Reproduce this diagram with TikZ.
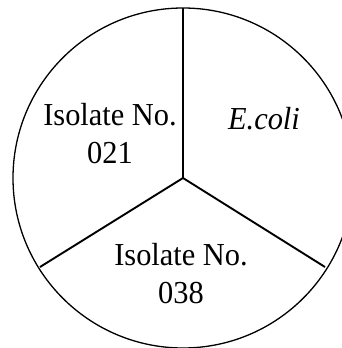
\documentclass[tikz,border=0pt]{standalone}
\usepackage{fontspec}
\setmainfont{Liberation Serif}
\begin{document}
\begin{tikzpicture}[x=1pt, y=-1pt,
            every node/.style={font=\fontsize{32}{38}\selectfont, xscale=0.95, inner sep=0pt, align=center}]
        \useasboundingbox (0,0) rectangle (341,348);
        % Centro e raggi del disco
        \coordinate (O) at (183,178);
        \coordinate (T) at (183,8);
        \coordinate (L) at (40,267);
        \coordinate (R) at (325,267);

        % Bordo
        \draw[line width=1.3pt] (O) circle (170);

        % Raggi
        \draw[line width=1.1pt] (O) -- (T);
        \draw[line width=1.9pt] (O) -- (L);
        \draw[line width=1.9pt] (O) -- (R);

        % Etichette dei settori
        \node (iso21) at (110,134) {Isolate No.\\021};
        \node (ecoli) at (264,119) {\itshape E.coli};
        \node (iso38) at (181,273.5) {Isolate No.\\038};
    \end{tikzpicture}
\end{document}
